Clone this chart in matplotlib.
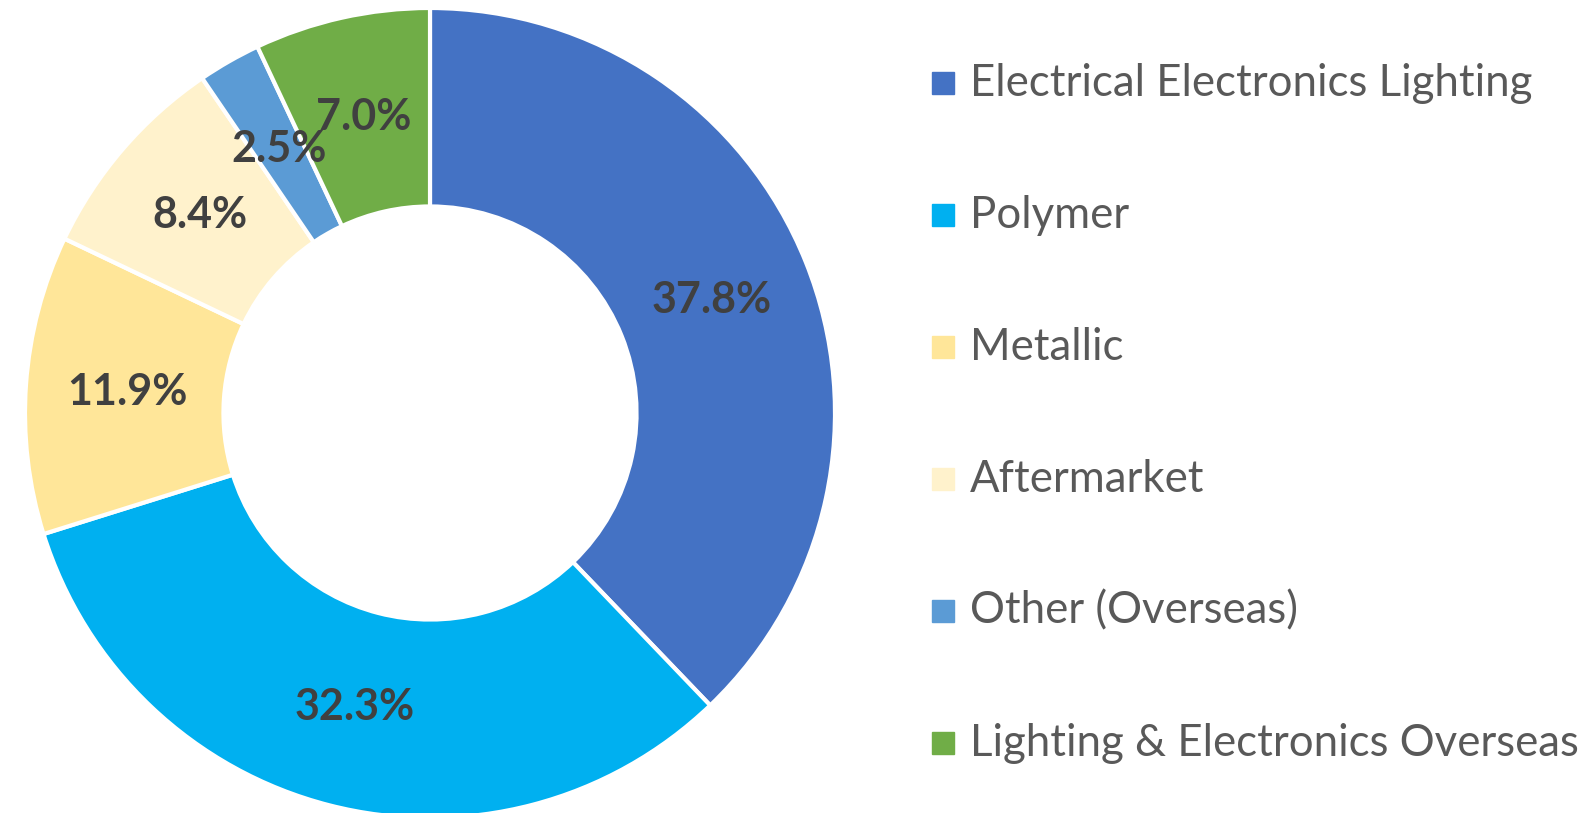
import matplotlib.pyplot as plt
from matplotlib.patches import Rectangle

segments = ['Electrical Electronics Lighting', 'Polymer', 'Metallic',
            'Aftermarket', 'Other (Overseas)', 'Lighting & Electronics Overseas']
shares = [37.8, 32.3, 11.9, 8.4, 2.5, 7.0]
colors = ['#4472C4', '#00B0F0', '#FFE699', '#FFF2CC', '#5B9BD5', '#70AD47']

W, H = 1588, 813
fig = plt.figure(figsize=(W / 100, H / 100), dpi=100)
plt.rcParams['font.family'] = ['Lato', 'DejaVu Sans']

# donut: centre (430, 413) px, outer radius 405 px
cx, cy, r = 430, 413, 405
ax = fig.add_axes([(cx - r) / W, (H - cy - r) / H, 2 * r / W, 2 * r / H])
wedges, texts, autotexts = ax.pie(
    shares, colors=colors, startangle=90, counterclock=False,
    autopct=lambda p: '%.1f%%' % p, pctdistance=0.75,
    wedgeprops=dict(width=0.49, edgecolor='white', linewidth=3),
    textprops=dict(fontsize=31, fontweight='bold', color='#404040'))
ax.set_xlim(-1, 1)
ax.set_ylim(-1, 1)
ax.set_aspect('equal')
ax.axis('off')

# legend drawn by hand
y0, step = 83, 132
for i, (lab, col) in enumerate(zip(segments, colors)):
    yc = y0 + i * step
    fig.patches.append(Rectangle((932 / W, (H - yc - 11) / H), 22 / W, 22 / H,
                                 transform=fig.transFigure, color=col))
    fig.text(970 / W, (H - yc) / H, lab, fontsize=31.5, color='#595959',
             va='center', ha='left')

fig.savefig('out.png', dpi=100)
